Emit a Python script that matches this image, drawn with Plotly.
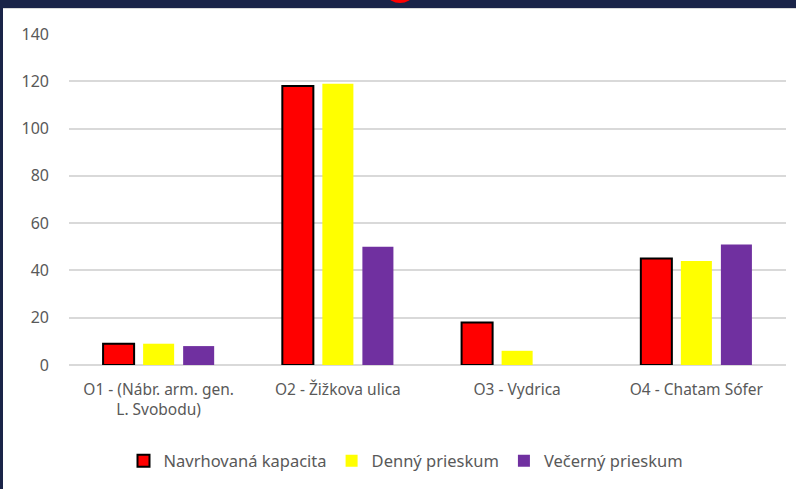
import plotly.graph_objects as go

categories = ["O1 - (Nábr. arm. gen.<br>L. Svobodu)", "O2 - Žižkova ulica", "O3 - Vydrica", "O4 - Chatam Sófer"]
navrhovana = [9, 118, 18, 45]
denny = [9, 119, 6, 44]
vecerny = [8, 50, None, 51]
y_ticks = [0, 20, 40, 60, 80, 100, 120, 140]

W, H = 796, 489
L, R, T, B = 69, 10, 34, 124
pw, ph = W - L - R, H - T - B

def px(x):
    return (x - L) / pw

def py(y):
    return (H - B - y) / ph

fig = go.Figure()
fig.add_bar(name="Navrhovaná kapacita", x=categories, y=navrhovana,
            marker=dict(color="#FF0000", line=dict(color="#000000", width=2)))
fig.add_bar(name="Denný prieskum", x=categories, y=denny,
            marker=dict(color="#FFFF00", line=dict(width=0)))
fig.add_bar(name="Večerný prieskum", x=categories, y=vecerny,
            marker=dict(color="#7030A0", line=dict(width=0)))

navy = "#1A2448"
shapes = [
    dict(type="rect", xref="paper", yref="paper", x0=px(-5), x1=px(W + 5), y0=py(8), y1=py(-5),
         fillcolor=navy, line=dict(width=0), layer="above"),
    dict(type="line", xref="paper", yref="paper", x0=px(3), x1=px(W + 5), y0=py(8.5), y1=py(8.5),
         line=dict(color="#D9D9D9", width=1), layer="above"),
    dict(type="rect", xref="paper", yref="paper", x0=px(-5), x1=px(3), y0=py(H + 5), y1=py(-5),
         fillcolor=navy, line=dict(width=0), layer="above"),
    dict(type="circle", xref="paper", yref="paper", x0=px(388), x1=px(412), y0=py(3), y1=py(-12),
         fillcolor="#FF0000", line=dict(width=0), layer="above"),
]

fig.update_layout(
    width=W, height=H,
    margin=dict(l=L, r=R, t=T, b=B, autoexpand=False),
    paper_bgcolor="white", plot_bgcolor="white",
    font=dict(family="Noto Sans, Open Sans, sans-serif", size=15, color="#595959"),
    barmode="group", bargap=0.33, bargroupgap=0.225,
    showlegend=True,
    legend=dict(orientation="h", x=px(406), xanchor="center", y=py(461), yanchor="middle",
                font=dict(size=16.5, color="#595959"), itemwidth=30),
    shapes=shapes,
)
fig.update_yaxes(range=[0, 140], tickvals=y_ticks, showgrid=True, gridcolor="#D9D9D9", gridwidth=1.5,
                 zeroline=True, zerolinecolor="#D9D9D9", zerolinewidth=1.5, showline=False,
                 ticks="", ticklabelstandoff=19, automargin=False,
                 tickfont=dict(size=16, color="#595959"))
fig.update_xaxes(showgrid=False, showline=False, ticks="", ticklabelstandoff=13, automargin=False,
                 tickfont=dict(size=15.5, color="#595959"))

fig.write_html("out.html", config={"displayModeBar": False},
               post_script="document.body.style.margin='0';document.body.style.overflow='hidden';")
